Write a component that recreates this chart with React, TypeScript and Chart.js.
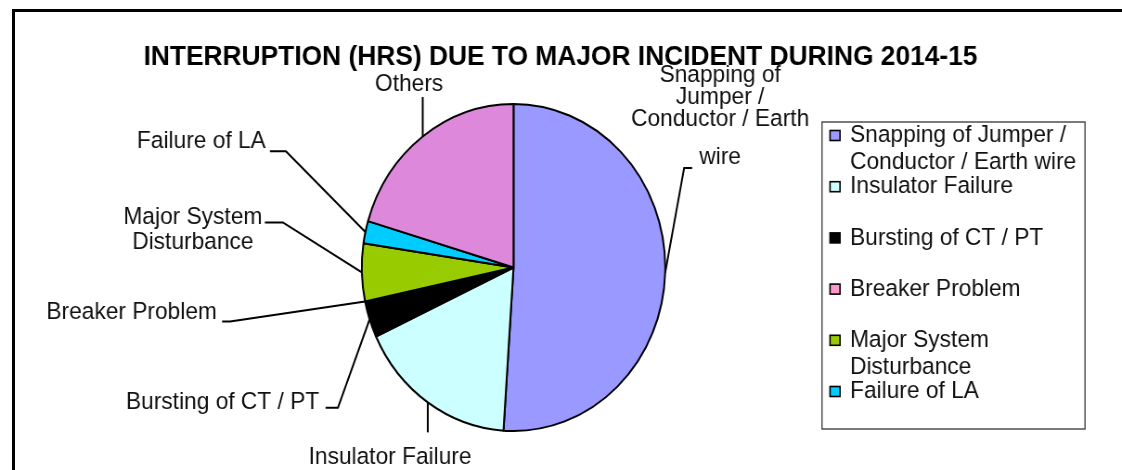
import React, { useEffect, useRef } from 'react';
import { Chart, registerables } from 'chart.js';

Chart.register(...registerables);

// ---------- data ----------
const TITLE = 'INTERRUPTION (HRS) DUE TO MAJOR INCIDENT DURING 2014-15';
const categories = [
  'Snapping of Jumper / Conductor / Earth wire',
  'Insulator Failure',
  'Bursting of CT / PT',
  'Breaker Problem',
  'Major System Disturbance',
  'Failure of LA',
  'Others',
];
const hours = [51.0, 17.0, 3.6, 0, 5.7, 2.2, 20.4];
const colors = ['#9999FF', '#CCFFFF', '#000000', '#FF99CC', '#99CC00', '#00CCFF', '#DD88DB'];
// the original legend box only shows the first six entries
const LEGEND_ENTRIES = 6;

// ---------- layout (image px; x offsets are divided by the horizontal squish) ----------
const SQ = 0.928; // the reference picture is horizontally compressed
const CANVAS_W = Math.round(1122 / SQ);
const CANVAS_H = 470;
const FONT = '"Liberation Sans", Arial, Helvetica, sans-serif';
const LABEL_FONT_PX = 24.5;

type Layout = { text: number[]; elbow: number[]; end: number[]; lineOffsets?: number[] };
// offsets relative to the mid point of each slice's outer edge
const labelLayout: Layout[] = [
  { text: [55, -198], elbow: [19, -105], end: [27, -105], lineOffsets: [0, 22.5, 44.5, 82] },
  { text: [-37.7, 55], elbow: [0, 30], end: [0, 30] },
  { text: [-147, 82.5], elbow: [-31.7, 88.5], end: [-44, 88.5] },
  { text: [-233.5, 11], elbow: [-135, 20], end: [-143, 20] },
  { text: [-169, -55], elbow: [-79, -50], end: [-97, -50] },
  { text: [-164, -90.5], elbow: [-79.5, -80.8], end: [-95.5, -80.8] },
  { text: [-13.6, -52], elbow: [0, -39.5], end: [0, -39.5] },
];

function wrap(ctx: CanvasRenderingContext2D, text: string, maxW: number): string[] {
  const words = text.split(' ');
  const lines: string[] = [];
  let cur = '';
  for (const w of words) {
    const t = cur ? cur + ' ' + w : w;
    if (cur && ctx.measureText(t).width > maxW) {
      lines.push(cur);
      cur = w;
    } else cur = t;
  }
  if (cur) lines.push(cur);
  return lines;
}

const titlePlugin = {
  id: 'titleText',
  afterDraw(chart: any) {
    const ctx = chart.ctx as CanvasRenderingContext2D;
    ctx.save();
    ctx.font = `bold 28.4px ${FONT}`;
    ctx.fillStyle = '#000';
    ctx.textAlign = 'center';
    ctx.textBaseline = 'alphabetic';
    ctx.fillText(TITLE, 560.5 / SQ, 65);
    ctx.restore();
  },
};

const sliceLabelPlugin = {
  id: 'sliceLabels',
  afterDatasetsDraw(chart: any) {
    const ctx = chart.ctx as CanvasRenderingContext2D;
    const meta = chart.getDatasetMeta(0);
    ctx.save();
    ctx.font = `${LABEL_FONT_PX}px ${FONT}`;
    ctx.fillStyle = '#111';
    ctx.strokeStyle = '#000';
    ctx.lineWidth = 2;
    ctx.textAlign = 'center';
    ctx.textBaseline = 'middle';
    meta.data.forEach((arc: any, i: number) => {
      const lay = labelLayout[i];
      const p = arc.getProps(['x', 'y', 'startAngle', 'endAngle', 'outerRadius'], true);
      const mid = (p.startAngle + p.endAngle) / 2;
      const ax = p.x + Math.cos(mid) * p.outerRadius;
      const ay = p.y + Math.sin(mid) * p.outerRadius;
      ctx.beginPath();
      ctx.moveTo(ax, ay);
      ctx.lineTo(ax + lay.elbow[0] / SQ, ay + lay.elbow[1]);
      ctx.lineTo(ax + lay.end[0] / SQ, ay + lay.end[1]);
      ctx.stroke();
      const lines = wrap(ctx, chart.data.labels[i], 211);
      lines.forEach((ln, k) => {
        const off = lay.lineOffsets ? lay.lineOffsets[k] : k * 25;
        ctx.fillText(ln, ax + lay.text[0] / SQ, ay + lay.text[1] + off);
      });
    });
    ctx.restore();
  },
};

const legendPlugin = {
  id: 'boxLegend',
  afterDraw(chart: any) {
    const ctx = chart.ctx as CanvasRenderingContext2D;
    const left = 822 / SQ;
    const right = 1085 / SQ;
    const top = 122;
    const bottom = 429;
    const textX = 850 / SQ;
    ctx.save();
    ctx.strokeStyle = '#333';
    ctx.lineWidth = 1.3;
    ctx.strokeRect(left, top, right - left, bottom - top);
    ctx.font = `${LABEL_FONT_PX}px ${FONT}`;
    ctx.textAlign = 'left';
    ctx.textBaseline = 'middle';
    const ds = chart.data.datasets[0];
    for (let i = 0; i < LEGEND_ENTRIES; i++) {
      const y0 = 135.5 + i * 51.2;
      ctx.fillStyle = ds.backgroundColor[i];
      ctx.fillRect(830 / SQ, y0 - 5, 10 / SQ, 10);
      ctx.strokeStyle = '#000';
      ctx.lineWidth = 1.6;
      ctx.strokeRect(830 / SQ, y0 - 5, 10 / SQ, 10);
      ctx.fillStyle = '#111';
      const lines = wrap(ctx, chart.data.labels[i], right - textX - 2);
      lines.forEach((ln, k) => ctx.fillText(ln, textX, y0 + k * 26.5));
    }
    ctx.restore();
  },
};

export default function App() {
  const ref = useRef<HTMLCanvasElement | null>(null);

  useEffect(() => {
    if (!ref.current) return;
    const R = 163.5;
    const cx = 513.5 / SQ;
    const cy = 267.5;
    const bw = 2;
    const half = R + bw / 2;
    const chart = new Chart(ref.current, {
      type: 'pie',
      data: {
        labels: categories,
        datasets: [
          {
            data: hours,
            backgroundColor: colors,
            borderColor: '#000',
            borderWidth: bw,
          },
        ],
      },
      options: {
        animation: false,
        responsive: true,
        maintainAspectRatio: false,
        events: [],
        layout: {
          padding: {
            left: cx - half,
            right: CANVAS_W - (cx + half),
            top: cy - half,
            bottom: CANVAS_H - (cy + half),
          },
        },
        plugins: {
          legend: { display: false },
          tooltip: { enabled: false },
          title: { display: false },
        },
      },
      plugins: [sliceLabelPlugin, titlePlugin, legendPlugin],
    });
    return () => chart.destroy();
  }, []);

  return (
    <div
      style={{
        position: 'fixed',
        left: 0,
        top: 0,
        width: 1122,
        height: 470,
        overflow: 'hidden',
        background: '#fff',
      }}
    >
      <div
        style={{
          position: 'absolute',
          left: 12,
          top: 9,
          width: 1200,
          height: 600,
          border: '3px solid #000',
          boxSizing: 'border-box',
        }}
      />
      <div
        style={{
          position: 'absolute',
          left: 0,
          top: 0,
          width: CANVAS_W,
          height: CANVAS_H,
          transform: `scaleX(${SQ})`,
          transformOrigin: '0 0',
        }}
      >
        <canvas ref={ref} />
      </div>
    </div>
  );
}
